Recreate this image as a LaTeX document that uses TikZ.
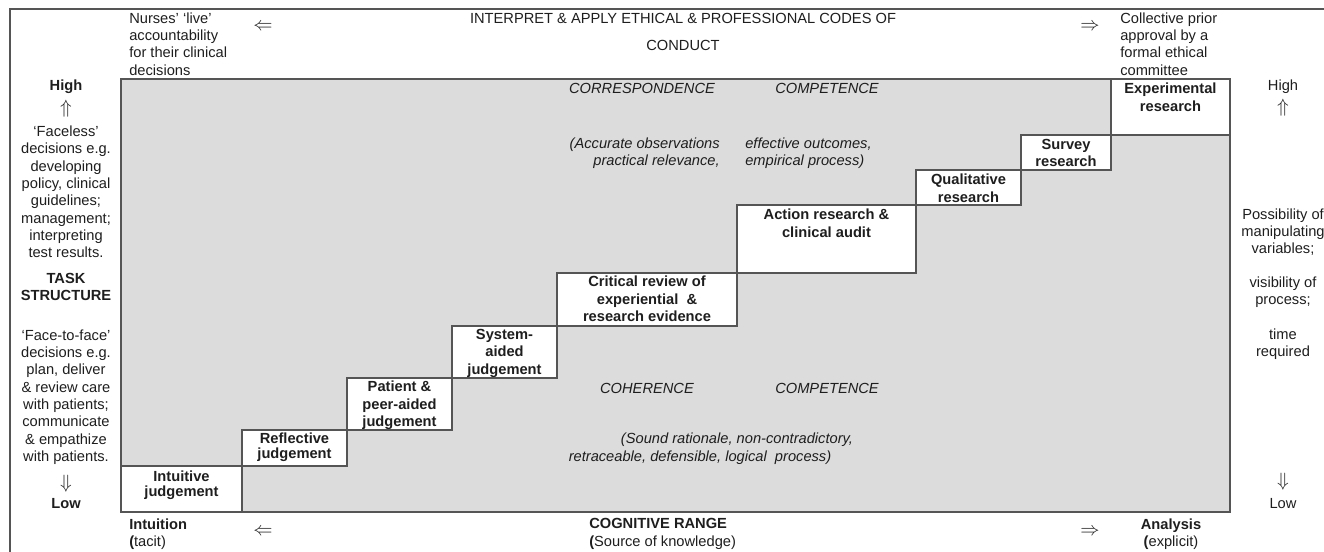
\documentclass[tikz,border=0pt]{standalone}
\usepackage{amsmath}
\usepackage{amssymb}
\usepackage{fontspec}
\setmainfont{Liberation Sans}
\definecolor{panel}{RGB}{220,220,220}
\definecolor{rule}{RGB}{85,85,85}
\definecolor{ink}{RGB}{30,30,30}
\tikzset{
	txt/.style={font=\fontsize{11}{13}\selectfont,text=ink,inner sep=0pt},
	boldtxt/.style={txt,font=\fontsize{11}{13}\selectfont\bfseries},
	slanttxt/.style={txt,font=\fontsize{11}{13}\selectfont\itshape},
	dblarrow/.style={txt,font=\fontsize{15}{15}\selectfont},
	stepbox/.style={draw=rule,fill=white,line width=1pt},
	steplabel/.style={boldtxt,align=center,anchor=north},
	tightlabel/.style={steplabel,font=\fontsize{11}{11}\selectfont\bfseries}
}
\begin{document}
\begin{tikzpicture}[x=0.75pt,y=-0.75pt]
		\useasboundingbox(0,0)rectangle(1324,552);
		\draw[rule,line width=1pt](1324,9)--(10,9)--(10,552);
		\filldraw[fill=panel,draw=rule,line width=1pt](121,79)rectangle(1230,512);
		% staircase of judgement modes
		\filldraw[stepbox](121,466)rectangle(242,512);
		\filldraw[stepbox](242,430)rectangle(347,466);
		\filldraw[stepbox](347,378)rectangle(452,430);
		\filldraw[stepbox](452,326)rectangle(557,378);
		\filldraw[stepbox](557,273)rectangle(737,326);
		\filldraw[stepbox](737,205)rectangle(916,273);
		\filldraw[stepbox](916,170)rectangle(1021,205);
		\filldraw[stepbox](1021,135)rectangle(1111,170);
		\filldraw[stepbox](1111,79)rectangle(1230,135);
		\node[tightlabel](intuitive)at(181.5,471){Intuitive\\judgement};
		\node[tightlabel](reflective)at(294.5,433){Reflective\\judgement};
		\node[steplabel](patient)at(399.5,381){Patient \&\\peer-aided\\judgement};
		\node[steplabel](system)at(504.5,329){System-\\aided\\judgement};
		\node[steplabel](critical)at(647,276){Critical review of\\experiential \ \&\\research evidence};
		\node[steplabel](action)at(826.5,209){Action research \&\\clinical audit};
		\node[steplabel](qualitative)at(968.5,174){Qualitative\\research};
		\node[steplabel](survey)at(1066,139){Survey\\research};
		\node[steplabel](experimental)at(1170.5,83){Experimental\\research};
		% labels inside the panel
		\node[slanttxt](correspondence)at(642,88){CORRESPONDENCE};
		\node[slanttxt](competencetop)at(827,88){COMPETENCE};
		\node[slanttxt,align=right,anchor=east](accurate)at(720,153){(Accurate observations\\practical relevance,};
		\node[slanttxt,align=left,anchor=west](effective)at(745,153){effective outcomes,\\empirical process)};
		\node[slanttxt](coherence)at(647,388){COHERENCE};
		\node[slanttxt](competencebot)at(827,388){COMPETENCE};
		\node[slanttxt](sound)at(737,440){(Sound rationale, non-contradictory,};
		\node[slanttxt](retrace)at(700,458){retraceable, defensible, logical \ process)};
		% top row
		\node[txt,align=left,anchor=west](nurses)at(129,44){Nurses' `live'\\accountability\\for their clinical\\decisions};
		\node[dblarrow](toplarrow)at(263,27){$\Leftarrow$};
		\node[txt](codes)at(683,18){INTERPRET \& APPLY ETHICAL \& PROFESSIONAL CODES OF};
		\node[txt](conduct)at(683,45){CONDUCT};
		\node[dblarrow](toprarrow)at(1090,27){$\Rightarrow$};
		\node[txt,align=left,anchor=west](collective)at(1120,44){Collective prior\\approval by a\\formal ethical\\committee};
		% left column
		\node[boldtxt](lhigh)at(66,87){High};
		\node[dblarrow](luparrow)at(66,109){$\Uparrow$};
		\node[txt,align=center](faceless)at(66,192){`Faceless'\\decisions e.g.\\developing\\policy, clinical\\guidelines;\\management;\\interpreting\\test results.};
		\node[boldtxt,align=center](task)at(66,287){TASK\\STRUCTURE};
		\node[txt,align=center](facetoface)at(66,397){`Face-to-face'\\decisions e.g.\\plan, deliver\\\& review care\\with patients;\\communicate\\\& empathize\\with patients.};
		\node[dblarrow](ldownarrow)at(66,484){$\Downarrow$};
		\node[boldtxt](llow)at(66,504){Low};
		% right column
		\node[txt](rhigh)at(1283,87){High};
		\node[dblarrow](ruparrow)at(1283,108){$\Uparrow$};
		\node[txt,align=center](possibility)at(1283,232){Possibility of\\manipulating\\variables;};
		\node[txt,align=center](visibility)at(1283,292){visibility of\\process;};
		\node[txt,align=center](time)at(1283,344){time\\required};
		\node[dblarrow](rdownarrow)at(1283,482){$\Downarrow$};
		\node[txt](rlow)at(1283,504){Low};
		% bottom row
		\node[txt,align=left,anchor=west](intuition)at(129,534){\textbf{Intuition}\\\textbf{(}tacit)};
		\node[dblarrow](botlarrow)at(263,532){$\Leftarrow$};
		\node[txt,align=left,anchor=west](cognitive)at(589,534){\textbf{COGNITIVE RANGE}\\\textbf{(}Source of knowledge)};
		\node[dblarrow](botrarrow)at(1090,532){$\Rightarrow$};
		\node[txt,align=center](analysis)at(1171,534){\textbf{Analysis}\\\textbf{(}explicit)};
	\end{tikzpicture}
\end{document}
